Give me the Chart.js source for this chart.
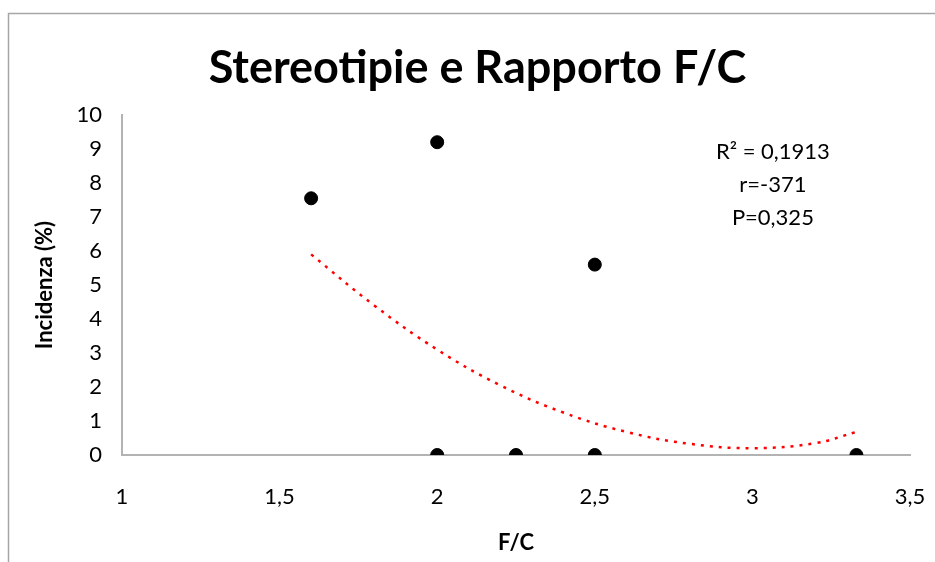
<!DOCTYPE html>
<html>
<head>
<meta charset="utf-8">
<script src="https://cdn.jsdelivr.net/npm/chart.js@4/dist/chart.umd.min.js"></script>
<style>
html,body{margin:0;padding:0;background:#fff;}
#wrap{width:935px;height:562px;position:relative;}
</style>
</head>
<body>
<div id="wrap"><canvas id="c" width="935" height="562"></canvas></div>
<script>
// Data
const fcValues = [1.6, 2.0, 2.0, 2.25, 2.5, 2.5, 3.33];
const incidenceValues = [7.55, 9.2, 0, 0, 5.6, 0, 0];
const trendX = [1.6, 1.8, 2.0, 2.2, 2.4, 2.6, 2.8, 3.0, 3.2, 3.33];
const trendY = [5.9, 4.4, 3.1, 2.05, 1.25, 0.68, 0.33, 0.2, 0.35, 0.68];
const xTicks = [1, 1.5, 2, 2.5, 3, 3.5];
const yTicks = [0, 1, 2, 3, 4, 5, 6, 7, 8, 9, 10];
const statLines = ['R² = 0,1913', 'r=-371', 'P=0,325'];
const chartTitle = 'Stereotipie e Rapporto F/C';
const xTitle = 'F/C';
const yTitle = 'Incidenza (%)';

const FONT = 'Lato, "Open Sans", sans-serif';

const pointsData = fcValues.map((x, i) => ({x: x, y: incidenceValues[i]}));
const trendData = trendX.map((x, i) => ({x: x, y: trendY[i]}));

const frame = {
  id: 'frame',
  afterLayout(chart) {
    const tb = chart.titleBlock;
    if (tb) { tb.left += 18; tb.right += 18; }
  },
  beforeDraw(chart) {
    const ctx = chart.ctx;
    ctx.save();
    ctx.fillStyle = '#fff';
    ctx.fillRect(0, 0, chart.width, chart.height);
    ctx.strokeStyle = '#a6a6a6';
    ctx.lineWidth = 1.5;
    ctx.beginPath();
    ctx.moveTo(8.5, chart.height);
    ctx.lineTo(8.5, 13.5);
    ctx.lineTo(chart.width, 13.5);
    ctx.stroke();
    ctx.restore();
  }
};

const stats = {
  id: 'stats',
  afterDraw(chart) {
    const ctx = chart.ctx;
    const xs = chart.scales.x;
    const ys = chart.scales.y;
    ctx.save();
    ctx.fillStyle = '#000';
    ctx.font = '22px ' + FONT;
    ctx.textAlign = 'center';
    ctx.textBaseline = 'middle';
    const cx = xs.getPixelForValue(3.065);
    const y0 = ys.getPixelForValue(8.9);
    const step = ys.getPixelForValue(0) - ys.getPixelForValue(0.96);
    statLines.forEach((t, i) => ctx.fillText(t, cx, y0 + i * step));
    ctx.restore();
  }
};

new Chart(document.getElementById('c'), {
  type: 'scatter',
  data: {
    datasets: [
      {
        label: 'trend',
        type: 'line',
        data: trendData,
        borderColor: '#ff0000',
        borderWidth: 2.5,
        borderDash: [3, 6],
        pointRadius: 0,
        fill: false,
        tension: 0.4,
        order: 2
      },
      {
        label: 'points',
        data: pointsData,
        backgroundColor: '#000',
        borderColor: '#000',
        pointRadius: 6.5,
        pointHoverRadius: 6.5,
        order: 1
      }
    ]
  },
  options: {
    responsive: false,
    animation: false,
    devicePixelRatio: 1,
    layout: { padding: { top: 13, left: 9, right: 25, bottom: 0 } },
    plugins: {
      legend: { display: false },
      tooltip: { enabled: false },
      title: {
        display: true,
        text: chartTitle,
        color: '#000',
        font: { family: FONT, size: 45, weight: 'bold' },
        padding: { top: 28, bottom: 20 }
      }
    },
    scales: {
      x: {
        type: 'linear',
        min: 1, max: 3.5,
        afterBuildTicks(scale) { scale.ticks = xTicks.map(v => ({value: v})); },
        afterFit(scale) { scale.height = 107; scale.paddingRight = 10; scale.paddingLeft = 10; },
        grid: { display: false, drawTicks: false },
        border: { display: true, color: '#b3b3b3', width: 2 },
        ticks: {
          color: '#000',
          font: { family: FONT, size: 22 },
          padding: 29,
          maxRotation: 0,
          callback: v => String(v).replace('.', ',')
        },
        title: {
          display: true, text: xTitle, color: '#000',
          font: { family: FONT, size: 22, weight: 'bold' },
          padding: { top: 0, bottom: 6 }
        }
      },
      y: {
        type: 'linear',
        min: 0, max: 10,
        afterBuildTicks(scale) { scale.ticks = yTicks.map(v => ({value: v})); },
        afterFit(scale) { scale.width = 113; },
        grid: { display: false, drawTicks: false },
        border: { display: true, color: '#b3b3b3', width: 2 },
        ticks: {
          color: '#000',
          font: { family: FONT, size: 22 },
          padding: 20
        },
        title: {
          display: true, text: yTitle, color: '#000',
          font: { family: FONT, size: 22, weight: 'bold' },
          padding: { top: 23, bottom: 0 }
        }
      }
    }
  },
  plugins: [frame, stats]
});
</script>
</body>
</html>
